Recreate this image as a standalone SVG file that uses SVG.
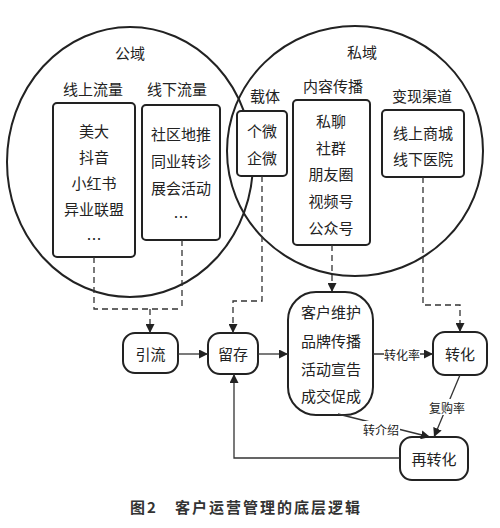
<svg xmlns="http://www.w3.org/2000/svg" width="500" height="528" viewBox="0 0 500 528">
<style>
text{font-family:"Noto Sans CJK SC","Noto Sans",sans-serif;fill:#222;text-anchor:middle;dominant-baseline:central}
.t{font-size:15px}
.h{font-size:15px}
.lb{font-size:12px}
.domain{fill:none;stroke:#222;stroke-width:2}
.box{fill:#fff;stroke:#222;stroke-width:2}
.dash{fill:none;stroke:#333;stroke-width:1.3;stroke-dasharray:6 4}
.sol{fill:none;stroke:#333;stroke-width:1.3}
.cap{font-size:15px;font-weight:bold;fill:#333;letter-spacing:2px}
</style>
<defs>
<marker id="ah" viewBox="0 0 10 10" refX="10" refY="5" markerWidth="9" markerHeight="9" markerUnits="userSpaceOnUse" orient="auto">
<path d="M0,0 L10,5 L0,10 z" fill="#222"/>
</marker>
</defs>
<rect width="500" height="528" fill="#fff"/>

<g id="public-domain">
<ellipse class="domain" cx="130" cy="162" rx="123" ry="135"/>
<text class="h" x="130" y="52">公域</text>
</g>
<g id="private-domain">
<ellipse class="domain" cx="355" cy="151" rx="128" ry="125"/>
<text class="h" x="362" y="51">私域</text>
</g>

<g id="online-traffic">
<text class="h" x="93" y="88">线上流量</text>
<rect class="box" x="53" y="103" width="82" height="154" rx="4"/>
<text class="t" x="94" y="130">美大</text>
<text class="t" x="94" y="156">抖音</text>
<text class="t" x="94" y="182">小红书</text>
<text class="t" x="94" y="208">异业联盟</text>
<text class="t" x="94" y="238">…</text>
</g>
<g id="offline-traffic">
<text class="h" x="177" y="88">线下流量</text>
<rect class="box" x="142" y="105" width="78" height="135" rx="4"/>
<text class="t" x="181" y="133">社区地推</text>
<text class="t" x="181" y="160">同业转诊</text>
<text class="t" x="181" y="187">展会活动</text>
<text class="t" x="181" y="216">…</text>
</g>
<g id="carrier">
<text class="h" x="265" y="95">载体</text>
<rect class="box" x="237" y="111" width="50" height="65" rx="4"/>
<text class="t" x="262" y="130">个微</text>
<text class="t" x="262" y="157">企微</text>
</g>
<g id="content">
<text class="h" x="333" y="85">内容传播</text>
<rect class="box" x="293" y="100" width="77" height="145" rx="4"/>
<text class="t" x="331" y="120">私聊</text>
<text class="t" x="331" y="147">社群</text>
<text class="t" x="331" y="173">朋友圈</text>
<text class="t" x="331" y="200">视频号</text>
<text class="t" x="331" y="227">公众号</text>
</g>
<g id="channels">
<text class="h" x="422" y="95">变现渠道</text>
<rect class="box" x="382" y="110" width="82" height="67" rx="4"/>
<text class="t" x="423" y="132">线上商城</text>
<text class="t" x="423" y="158">线下医院</text>
</g>

<g id="yinliu">
<rect class="box" x="123" y="333" width="55" height="40" rx="12"/>
<text class="t" x="150.5" y="353">引流</text>
</g>
<g id="liucun">
<rect class="box" x="208" y="333" width="50" height="41" rx="12"/>
<text class="t" x="233" y="353.5">留存</text>
</g>
<g id="maintain">
<rect class="box" x="288" y="292" width="85" height="123" rx="28"/>
<text class="t" x="331" y="311">客户维护</text>
<text class="t" x="331" y="340">品牌传播</text>
<text class="t" x="331" y="368">活动宣告</text>
<text class="t" x="331" y="395">成交促成</text>
</g>
<g id="zhuanhua">
<rect class="box" x="433" y="332" width="54" height="43" rx="12"/>
<text class="t" x="460" y="353.5">转化</text>
</g>
<g id="zaizhuanhua">
<rect class="box" x="400" y="437" width="68" height="43" rx="12"/>
<text class="t" x="434" y="458.5">再转化</text>
</g>

<g id="connectors">
<path class="dash" d="M94,257 V309 H182 M182,240 V309"/>
<path class="dash" d="M150,309 V333" marker-end="url(#ah)"/>
<path class="dash" d="M262,176 V301 H233 V333" marker-end="url(#ah)"/>
<path class="dash" d="M332,245 V292" marker-end="url(#ah)"/>
<path class="dash" d="M423,177 V305 H460 V332" marker-end="url(#ah)"/>
<path class="sol" d="M178,354 H208" marker-end="url(#ah)"/>
<path class="sol" d="M258,354 H288" marker-end="url(#ah)"/>
<path class="sol" d="M373,354 H433" marker-end="url(#ah)"/>
<path class="sol" d="M460,375 L434,437" marker-end="url(#ah)"/>
<path class="sol" d="M338,414 L430,437" style="stroke-width:1.6" marker-end="url(#ah)"/>
<path class="sol" d="M400,458 H234 V374" marker-end="url(#ah)"/>
<rect x="384" y="346" width="36" height="16" fill="#fff"/>
<text class="lb" x="402" y="354">转化率</text>
<rect x="429" y="399" width="36" height="16" fill="#fff"/>
<text class="lb" x="447" y="407">复购率</text>
<rect x="363" y="421" width="37" height="16" fill="#fff"/>
<text class="lb" x="381" y="429">转介绍</text>
</g>

<text class="cap" x="130" y="506" style="text-anchor:start">图2</text>
<text class="cap" x="175" y="506" style="text-anchor:start">客户运营管理的底层逻辑</text>
</svg>
